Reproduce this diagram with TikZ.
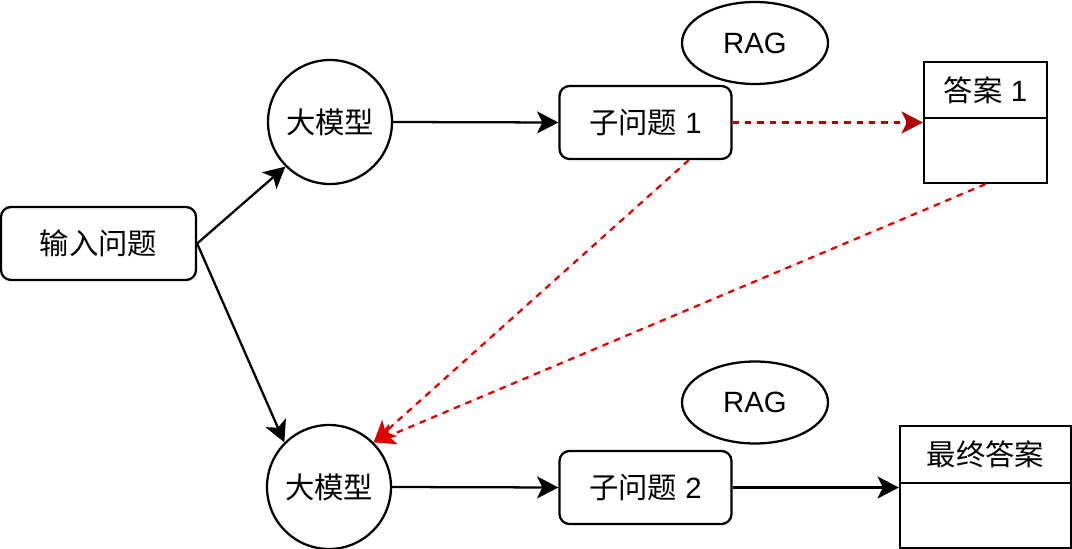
\documentclass[tikz,border=0pt]{standalone}
\usepackage{fontspec}
\setmainfont{Liberation Sans}
\newfontfamily\cjk{Noto Sans CJK SC}
\usetikzlibrary{arrows.meta,shapes.geometric}
\definecolor{dred}{HTML}{B20000}
\definecolor{bred}{HTML}{DD0000}
\begin{document}
\begin{tikzpicture}[x=0.75pt,y=-0.75pt,line width=1.7pt,
  every node/.style={font=\fontsize{22pt}{26pt}\selectfont,inner sep=0pt},
  rbox/.style={draw,rounded corners=7.5pt,minimum height=54.75pt},
  circ/.style={draw,circle,minimum size=93pt},
  ell/.style={draw,ellipse,minimum width=109.5pt,minimum height=61.5pt},
  sbox/.style={draw,rectangle},
  arr/.style={-{Stealth[length=16pt,width=16.5pt,inset=4pt]}},
  darr/.style={arr,dash pattern=on 4.8pt off 4.5pt}]
\useasboundingbox (0,0) rectangle (1072,549);
\node[rbox,minimum width=146.25pt] (inp) at (98.5,243.5) {\cjk 输入问题};
\node[circ] (bm1) at (330,122) {\cjk 大模型};
\node[circ] (bm2) at (329,487) {\cjk 大模型};
\node[rbox,minimum width=129pt] (sub1) at (645.5,122.5) {{\cjk 子问题} 1};
\node[rbox,minimum width=129pt] (sub2) at (645.5,487.5) {{\cjk 子问题} 2};
\node[ell] (rag1) at (755,43) {RAG};
\node[ell] (rag2) at (755,402.5) {RAG};
\node[sbox,minimum width=92.25pt,minimum height=42pt] (ans1h) at (985.5,90) {{\cjk 答案} 1};
\node[sbox,minimum width=92.25pt,minimum height=48.75pt] (ans1b) at (985.5,150.5) {};
\node[sbox,minimum width=128.25pt,minimum height=42.75pt] (finh) at (985.5,454.5) {\cjk 最终答案};
\node[sbox,minimum width=128.25pt,minimum height=48.75pt] (finb) at (985.5,515.5) {};
\draw[arr] (inp.east) -- (bm1.south west);
\draw[arr] (inp.east) -- (bm2.north west);
\draw[arr] (bm1.east) -- (sub1.west);
\draw[arr] (bm2.east) -- (sub2.west);
\draw[arr] (sub2.east) -- (sub2.east -| finb.west);
\draw[darr,draw=dred,fill=dred] (sub1.east) -- (sub1.east -| ans1b.west);
\draw[darr,draw=bred,fill=bred] (sub1.-41) -- (bm2.north east);
\draw[darr,draw=bred,fill=bred] (ans1b.south) -- (bm2.north east);
\end{tikzpicture}
\end{document}
